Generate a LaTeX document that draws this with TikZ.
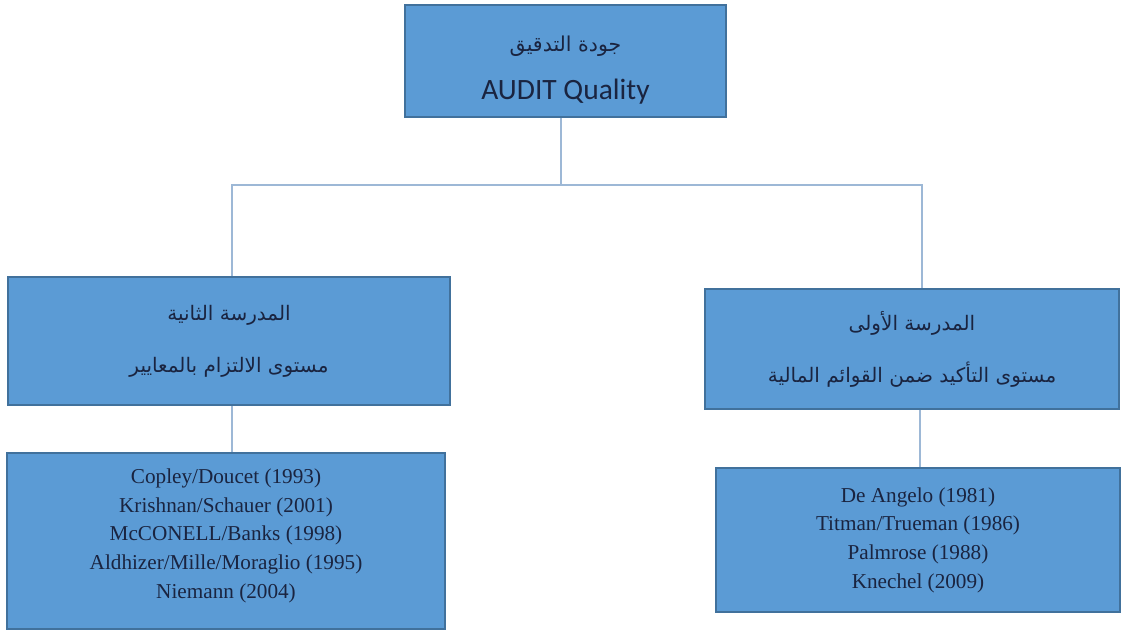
\documentclass[tikz,border=0pt]{standalone}
\usepackage{fontspec}
\setmainfont{Liberation Serif}
\newfontfamily\arabicfont[Script=Arabic]{DejaVu Sans}
\newfontfamily\calibrifont{Carlito}
\TeXXeTstate=1
\usepackage{xcolor}
\usetikzlibrary{positioning}
\definecolor{boxfill}{HTML}{5B9BD5}
\definecolor{boxline}{HTML}{41719C}
\definecolor{textnavy}{HTML}{1A2440}
\definecolor{linkline}{HTML}{9DB8D6}

\begin{document}
\begin{tikzpicture}[
    x=1pt, y=-1pt,
    box/.style={rectangle, draw=boxline, line width=1.6pt, fill=boxfill, align=center, text=textnavy, inner sep=0pt},
    arab/.style={font=\arabicfont\fontsize{20}{34}\selectfont},
    refs/.style={font=\fontsize{21.2}{28.6}\selectfont},
    link/.style={draw=linkline, line width=1.1pt}
]
\useasboundingbox (0,0) rectangle (1122,630);
\node[box, minimum width=321pt, minimum height=112pt,
      font=\fontsize{20}{26}\selectfont] (quality) at (565.5,61)
    {{\arabicfont\fontsize{20.5}{26}\selectfont\rule{0pt}{34pt}\beginR جودة التدقيق\endR}\\[22pt]
     {\calibrifont\fontsize{29.5}{26}\selectfont AUDIT Quality}};
\node[box, arab, minimum width=442pt, minimum height=128pt] (second) at (229,341)
    {\beginR المدرسة الثانية\endR\\[18pt]\beginR مستوى الالتزام بالمعايير\endR};
\node[box, arab, minimum width=414pt, minimum height=120pt] (first) at (912,349)
    {\beginR المدرسة الأولى\endR\\[18pt]\beginR مستوى التأكيد ضمن القوائم المالية\endR};
\node[box, refs, minimum width=438pt, minimum height=176pt] (secondrefs) at (226,541)
    {Copley/Doucet (1993)\\Krishnan/Schauer (2001)\\McCONELL/Banks (1998)\\Aldhizer/Mille/Moraglio (1995)\\Niemann (2004)\rule[-15pt]{0pt}{15pt}};
\node[box, refs, minimum width=404pt, minimum height=144pt] (firstrefs) at (918,540)
    {De Angelo (1981)\\Titman/Trueman (1986)\\Palmrose (1988)\\Knechel (2009)};
% tree connectors
\coordinate (split) at (561,185);
\draw[link] (quality.south -| split) -- (split);
\draw[link] (second.north -| 232,0) |- (split) -| (first.north -| 922,0);
\draw[link] (second.south -| 232,0) -- (secondrefs.north -| 232,0);
\draw[link] (first.south -| 920,0) -- (firstrefs.north -| 920,0);
\end{tikzpicture}
\end{document}
